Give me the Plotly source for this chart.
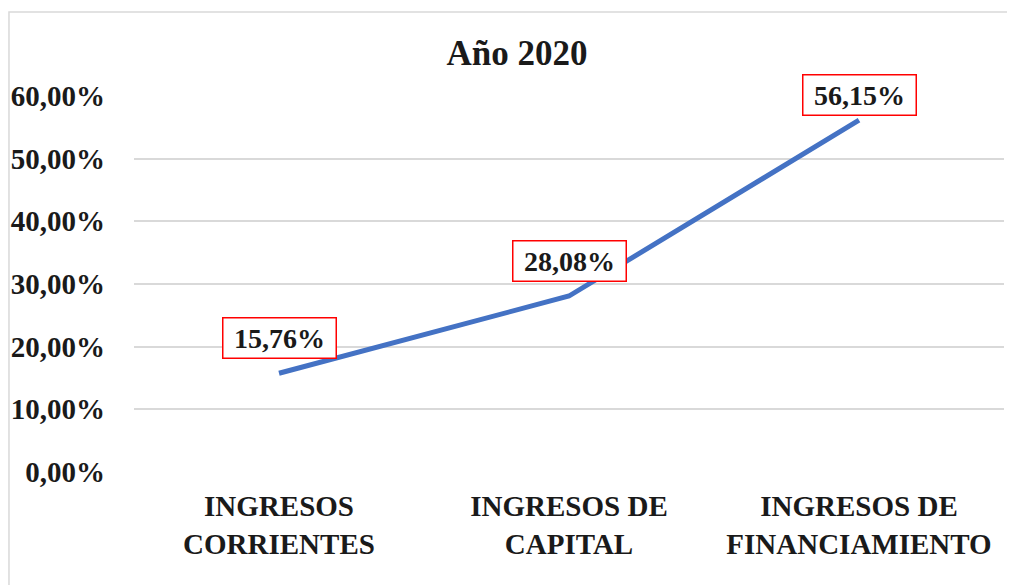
import plotly.graph_objects as go

categories = ["INGRESOS<br>CORRIENTES", "INGRESOS DE<br>CAPITAL", "INGRESOS DE<br>FINANCIAMIENTO"]
values = [0.1576, 0.2808, 0.5615]
label_shift = [35, 35, 25]
title_text = "Año 2020"

FONT = "Liberation Serif"

fig = go.Figure()
fig.add_trace(go.Scatter(
    x=categories, y=values, mode="lines",
    line=dict(color="#4472C4", width=5),
    hoverinfo="skip", showlegend=False,
))

for c, v, s in zip(categories, values, label_shift):
    fig.add_annotation(
        x=c, y=v, xref="x", yref="y", yshift=s,
        text=f"<b>{v*100:.2f}%</b>".replace(".", ","),
        showarrow=False,
        font=dict(family=FONT, size=28, color="#1a1a1a"),
        bordercolor="#FF0000", borderwidth=1.5, borderpad=4,
        bgcolor="white", width=104,
    )

fig.add_shape(type="rect", xref="paper", yref="paper",
              x0=-0.1437, x1=1.03, y0=-0.35, y1=1.2234,
              line=dict(color="#D9D9D9", width=1.5), layer="below")

fig.update_layout(
    width=1007, height=577,
    margin=dict(l=126, r=11, t=88, b=113),
    paper_bgcolor="white", plot_bgcolor="white",
    separators=",.",
    title=dict(text=f"<b>{title_text}</b>", x=0.5055, xanchor="center",
               y=0.922, yanchor="middle",
               font=dict(family=FONT, size=35, color="#1a1a1a")),
    xaxis=dict(showgrid=False, zeroline=False, showline=False, ticks="",
               range=[-0.5, 2.5], automargin=False,
               tickfont=dict(family=FONT, size=29, color="#1a1a1a", weight="bold"),
               ticklabelstandoff=14),
    yaxis=dict(range=[0, 0.6], dtick=0.1, tickformat=".2%",
               showgrid=True, gridcolor="#D9D9D9", gridwidth=1.5,
               zeroline=False, showline=False, ticks="", automargin=False,
               tickfont=dict(family=FONT, size=29, color="#1a1a1a", weight="bold"),
               ticklabelstandoff=28),
)

fig.write_html("out.html")
